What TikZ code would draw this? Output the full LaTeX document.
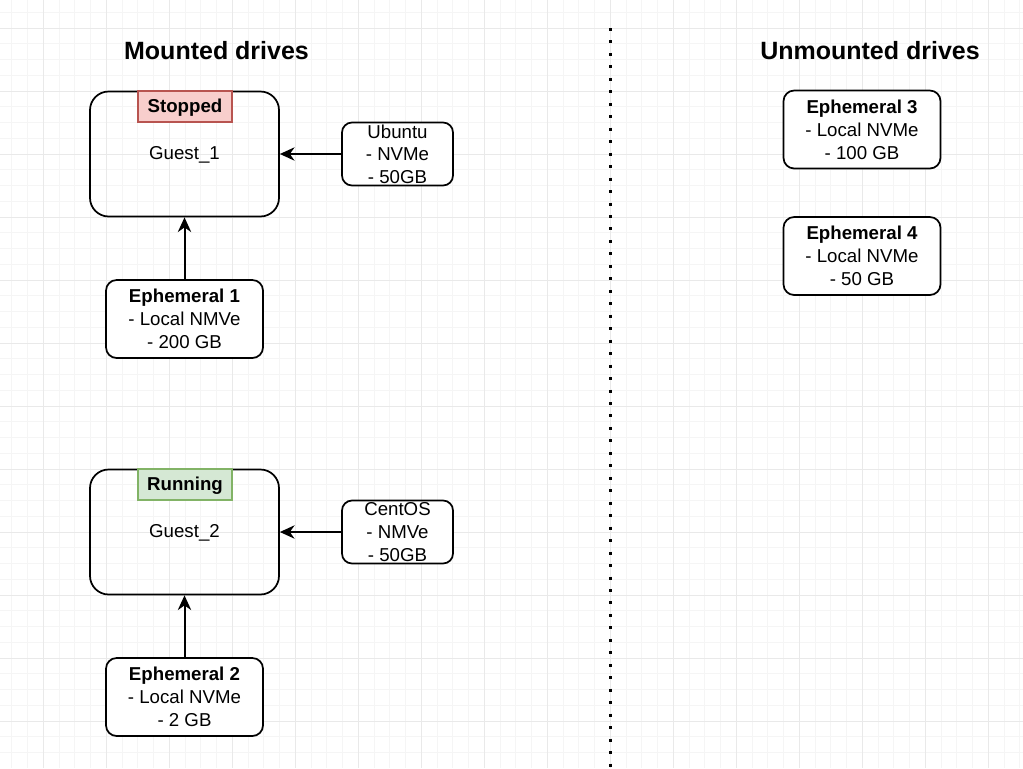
\documentclass[tikz,border=0pt]{standalone}
\usepackage{fontspec}
\setmainfont{Liberation Sans}
\usetikzlibrary{arrows.meta,positioning}
\definecolor{stopfill}{HTML}{F8CECC}
\definecolor{stopline}{HTML}{B85450}
\definecolor{runfill}{HTML}{D5E8D4}
\definecolor{runline}{HTML}{82B366}
\definecolor{gridminor}{HTML}{F5F5F5}
\definecolor{gridmajor}{HTML}{E9E9E9}
\tikzset{
    guest/.style={draw, line width=1.3pt, rounded corners=14pt,
        minimum width=141.75pt, minimum height=93.75pt,
        text height=10pt, text depth=2.5pt,
        font=\fontsize{14}{17}\selectfont},
    status/.style={draw, line width=1pt, inner sep=0pt,
        minimum width=70.5pt, minimum height=23.25pt,
        text height=10pt, text depth=1.5pt,
        font=\fontsize{14}{17}\selectfont\bfseries},
    osdrive/.style={draw, fill=white, line width=1.3pt, rounded corners=7.5pt,
        align=center, inner sep=0pt, minimum width=83.25pt, minimum height=47.25pt,
        font=\fontsize{14}{17}\selectfont},
    ephdrive/.style={draw, fill=white, line width=1.3pt, rounded corners=8pt,
        align=center, inner sep=0pt, minimum width=117.75pt, minimum height=58.5pt,
        font=\fontsize{14}{17.25}\selectfont},
    title/.style={font=\fontsize{18.75}{22}\selectfont\bfseries},
    mount/.style={-{Stealth[length=11pt,width=10pt,inset=3.5pt]}, line width=1.5pt}
}

\begin{document}
\begin{tikzpicture}[x=0.75pt, y=-0.75pt]
    % background and grid
    \useasboundingbox (0,0) rectangle (1023,768);
    \fill[white] (0,0) rectangle (1023,768);
    \foreach \i in {0,...,64}
        \draw[gridminor, line width=0.75pt] ({11.8+15.75*\i},0) -- ({11.8+15.75*\i},768);
    \foreach \j in {0,...,47}
        \draw[gridminor, line width=0.75pt] (0,{12.25+15.75*\j}) -- (1023,{12.25+15.75*\j});
    \foreach \i in {0,...,15}
        \draw[gridmajor, line width=0.75pt] ({43.3+63*\i},0) -- ({43.3+63*\i},768);
    \foreach \j in {0,...,11}
        \draw[gridmajor, line width=0.75pt] (0,{28+63*\j}) -- (1023,{28+63*\j});

    % titles and divider
    \node[title] (mountedtitle) at (216.5,51) {Mounted drives};
    \node[title] (unmountedtitle) at (870,51) {Unmounted drives};
    \coordinate (divtop) at (610,28);
    \coordinate (divbottom) at (610,768);
    \draw[line width=2.25pt, dash pattern=on 2.25pt off 7.1pt] (divtop) -- (divbottom);

    % first guest
    \node[guest] (guest1) at (184.5,154) {Guest\_1};
    \node[status, fill=stopfill, draw=stopline] (stopped) at (185,106.5) {Stopped};
    \node[osdrive] (ubuntu) at (397.5,154) {Ubuntu\\- NVMe\\- 50GB};
    \node[ephdrive] (eph1) at (184.5,319) {\textbf{Ephemeral 1}\\- Local NMVe\\- 200 GB};
    \draw[mount] (ubuntu) -- (guest1);
    \draw[mount] (eph1) -- (guest1);

    % second guest
    \node[guest] (guest2) at (184.5,532) {Guest\_2};
    \node[status, fill=runfill, draw=runline] (running) at (185,484.5) {Running};
    \node[osdrive] (centos) at (397.5,532) {CentOS\\- NMVe\\- 50GB};
    \node[ephdrive] (eph2) at (184.5,697) {\textbf{Ephemeral 2}\\- Local NVMe\\- 2 GB};
    \draw[mount] (centos) -- (guest2);
    \draw[mount] (eph2) -- (guest2);

    % unmounted drives
    \node[ephdrive] (eph3) at (862,129.5) {\textbf{Ephemeral 3}\\- Local NVMe\\- 100 GB};
    \node[ephdrive] (eph4) at (862,256) {\textbf{Ephemeral 4}\\- Local NVMe\\- 50 GB};
\end{tikzpicture}
\end{document}
